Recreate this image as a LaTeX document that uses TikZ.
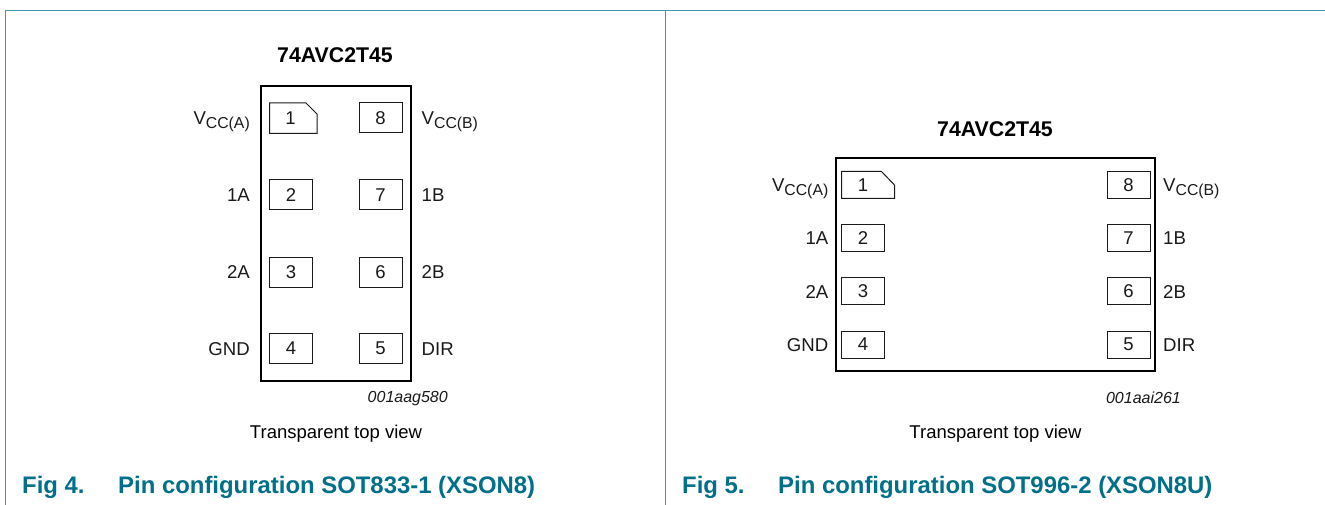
\documentclass[tikz,border=0pt]{standalone}
\usepackage{fontspec}
\setmainfont{Liberation Sans}
\definecolor{framecol}{HTML}{3F9BB2}
\definecolor{capcol}{HTML}{00708A}
\definecolor{inkcol}{HTML}{1A1A1A}
\newcommand{\vcc}[1]{V\raisebox{-4pt}{\fontsize{15.8}{18}\selectfont CC(#1)}}
\tikzset{
  frameline/.style={draw=framecol,line width=1.5pt},
  chipbox/.style={draw=black,line width=2.2pt,rectangle,inner sep=0pt,outer sep=0pt,anchor=north west},
  pinbox/.style={draw=inkcol,line width=1pt,rectangle,inner sep=0pt,outer sep=0pt,anchor=north west,font=\fontsize{18.5}{21}\selectfont,text=inkcol},
  pinnum/.style={inner sep=0pt,font=\fontsize{18.5}{21}\selectfont,text=inkcol},
  lbl/.style={inner sep=0pt,font=\fontsize{18.6}{21}\selectfont,text=inkcol},
  lleft/.style={lbl,anchor=base east},
  lright/.style={lbl,anchor=base west},
  titletext/.style={inner sep=0pt,anchor=base,font=\fontsize{21.3}{24}\selectfont\bfseries,text=black},
  codetext/.style={inner sep=0pt,anchor=base east,font=\fontsize{16}{19}\selectfont\itshape,text=inkcol},
  viewtext/.style={inner sep=0pt,anchor=base,font=\fontsize{18.5}{21}\selectfont,text=black},
  captext/.style={inner sep=0pt,anchor=base west,font=\fontsize{23.9}{27}\selectfont\bfseries,text=capcol},
}
\begin{document}
\begin{tikzpicture}[x=1pt,y=-1pt]
\useasboundingbox (0,0) rectangle (1325,505);
\fill[white] (0,0) rectangle (1325,505);
% frame
\draw[frameline] (5.5,505) -- (5.5,10.5) -- (1325,10.5);
\draw[frameline] (665.5,10.5) -- (665.5,505);
% ---- left figure
\node[titletext] (t1) at (335,63) {74AVC2T45};
\node[chipbox,minimum width=150pt,minimum height=295pt] (c1) at (261,86) {};
\draw[draw=inkcol,line width=1pt] (269.5,103) -- (306,103) -- (317,114) -- (317,133.5) -- (269.5,133.5) -- cycle;
\node[pinnum] (p1) at (290.5,118.5) {1};
\node[pinbox,minimum width=43pt,minimum height=30pt] (p2) at (269.5,180) {2};
\node[pinbox,minimum width=43pt,minimum height=30pt] (p3) at (269.5,257) {3};
\node[pinbox,minimum width=43pt,minimum height=30pt] (p4) at (269.5,333.5) {4};
\node[pinbox,minimum width=43pt,minimum height=30pt] (p8) at (359,103) {8};
\node[pinbox,minimum width=43pt,minimum height=30pt] (p7) at (359,180) {7};
\node[pinbox,minimum width=43pt,minimum height=30pt] (p6) at (359,257) {6};
\node[pinbox,minimum width=43pt,minimum height=30pt] (p5) at (359,333.5) {5};
\node[lleft] (la1) at (250,125) {\vcc{A}};
\node[lleft] (la2) at (250,202) {1A};
\node[lleft] (la3) at (250,278) {2A};
\node[lleft] (la4) at (250,355) {GND};
\node[lright] (lb1) at (421.5,125) {\vcc{B}};
\node[lright] (lb2) at (421.5,202) {1B};
\node[lright] (lb3) at (421.5,278) {2B};
\node[lright] (lb4) at (421.5,355) {DIR};
\node[codetext] (k1) at (448,402.5) {001aag580};
\node[viewtext] (v1) at (336,438) {Transparent top view};
\node[captext] (f1) at (22,493) {Fig 4.};
\node[captext] (n1) at (118,493) {Pin configuration SOT833-1 (XSON8)};
% ---- right figure
\node[titletext] (t2) at (995,136.5) {74AVC2T45};
\node[chipbox,minimum width=319pt,minimum height=213pt] (c2) at (836,158) {};
\draw[draw=inkcol,line width=1pt] (841.5,171.5) -- (881.5,171.5) -- (894.5,185) -- (894.5,198.5) -- (841.5,198.5) -- cycle;
\node[pinnum] (q1) at (863,185.5) {1};
\node[pinbox,minimum width=43pt,minimum height=27pt] (q2) at (841.5,224.5) {2};
\node[pinbox,minimum width=43pt,minimum height=27pt] (q3) at (841.5,277.5) {3};
\node[pinbox,minimum width=43pt,minimum height=27pt] (q4) at (841.5,331) {4};
\node[pinbox,minimum width=43pt,minimum height=27pt] (q8) at (1107,171.5) {8};
\node[pinbox,minimum width=43pt,minimum height=27pt] (q7) at (1107,224.5) {7};
\node[pinbox,minimum width=43pt,minimum height=27pt] (q6) at (1107,277.5) {6};
\node[pinbox,minimum width=43pt,minimum height=27pt] (q5) at (1107,331) {5};
\node[lleft] (ra1) at (828.5,191.5) {\vcc{A}};
\node[lleft] (ra2) at (828.5,244.5) {1A};
\node[lleft] (ra3) at (828.5,298) {2A};
\node[lleft] (ra4) at (828.5,351) {GND};
\node[lright] (rb1) at (1163,191.5) {\vcc{B}};
\node[lright] (rb2) at (1163,244.5) {1B};
\node[lright] (rb3) at (1163,298) {2B};
\node[lright] (rb4) at (1163,351.5) {DIR};
\node[codetext] (k2) at (1181,403) {001aai261};
\node[viewtext] (v2) at (995.5,438) {Transparent top view};
\node[captext] (f2) at (682,493) {Fig 5.};
\node[captext] (n2) at (778,493) {Pin configuration SOT996-2 (XSON8U)};
\end{tikzpicture}
\end{document}
